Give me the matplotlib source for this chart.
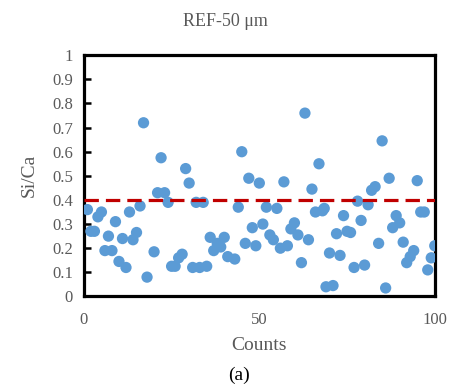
import matplotlib
matplotlib.use("Agg")
import matplotlib.pyplot as plt

# Si/Ca ratio per count
counts = [1, 2, 3, 4, 5, 6, 7, 8, 9, 10,
          11, 12, 13, 14, 15, 16, 17, 18, 20, 21,
          22, 23, 24, 25, 26, 27, 28, 29, 30, 31,
          32, 33, 34, 35, 36, 37, 38, 39, 40, 41,
          43, 44, 45, 46, 47, 48, 49, 50, 51, 52,
          53, 54, 55, 56, 57, 58, 59, 60, 61, 62,
          63, 64, 65, 66, 67, 68, 68.5, 69, 70, 71,
          72, 73, 74, 75, 76, 77, 78, 79, 80, 81,
          82, 83, 84, 85, 86, 87, 88, 89, 90, 91,
          92, 93, 94, 95, 96, 97, 98, 99, 100]
si_ca = [0.36, 0.27, 0.27, 0.33, 0.35, 0.19, 0.25, 0.19, 0.31, 0.145,
         0.24, 0.12, 0.35, 0.235, 0.265, 0.375, 0.72, 0.08, 0.185, 0.43,
         0.575, 0.43, 0.39, 0.125, 0.125, 0.16, 0.175, 0.53, 0.47, 0.12,
         0.39, 0.12, 0.39, 0.125, 0.245, 0.19, 0.22, 0.205, 0.245, 0.165,
         0.155, 0.37, 0.60, 0.22, 0.49, 0.285, 0.21, 0.47, 0.30, 0.37,
         0.255, 0.235, 0.365, 0.20, 0.475, 0.21, 0.28, 0.305, 0.255, 0.14,
         0.76, 0.235, 0.445, 0.35, 0.55, 0.355, 0.365, 0.04, 0.18, 0.045,
         0.26, 0.17, 0.335, 0.27, 0.265, 0.12, 0.395, 0.315, 0.13, 0.38,
         0.44, 0.455, 0.22, 0.645, 0.035, 0.49, 0.285, 0.335, 0.305, 0.225,
         0.14, 0.165, 0.19, 0.48, 0.35, 0.35, 0.11, 0.16, 0.21]
threshold = 0.4

plt.rcParams['font.family'] = ['Liberation Serif', 'DejaVu Serif']
grey = '#595959'

fig = plt.figure(figsize=(4.51, 3.89), dpi=100)
ax = fig.add_axes([0.186, 0.238, 0.778, 0.62])

ax.scatter(counts, si_ca, s=66, color='#5B9BD5', edgecolors='none', zorder=3)
ax.axhline(threshold, color='#C00000', lw=2.3, dashes=(4.5, 2.2), zorder=4)

ax.set_xlim(0, 100)
ax.set_ylim(0, 1)
ax.set_xticks([0, 50, 100])
ax.set_yticks([i / 10 for i in range(11)])
ax.set_yticklabels(['0', '0.1', '0.2', '0.3', '0.4', '0.5', '0.6', '0.7', '0.8', '0.9', '1'])
ax.tick_params(axis='y', direction='in', length=5, width=1.8, labelsize=12, colors='black', labelcolor=grey, pad=8)
ax.tick_params(axis='x', length=0, labelsize=12, labelcolor=grey, pad=11)
for sp in ax.spines.values():
    sp.set_linewidth(2.3)
    sp.set_color('black')

ax.set_xlabel('Counts', fontsize=14, color=grey, labelpad=7)
ax.set_ylabel('Si/Ca', fontsize=14, color=grey, labelpad=10)
fig.text(0.5, 0.945, 'REF-50 μm', ha='center', va='center', fontsize=13, color=grey)
fig.text(0.53, 0.035, '(a)', ha='center', va='center', fontsize=14, color='black')

fig.savefig('out.png', dpi=100)
